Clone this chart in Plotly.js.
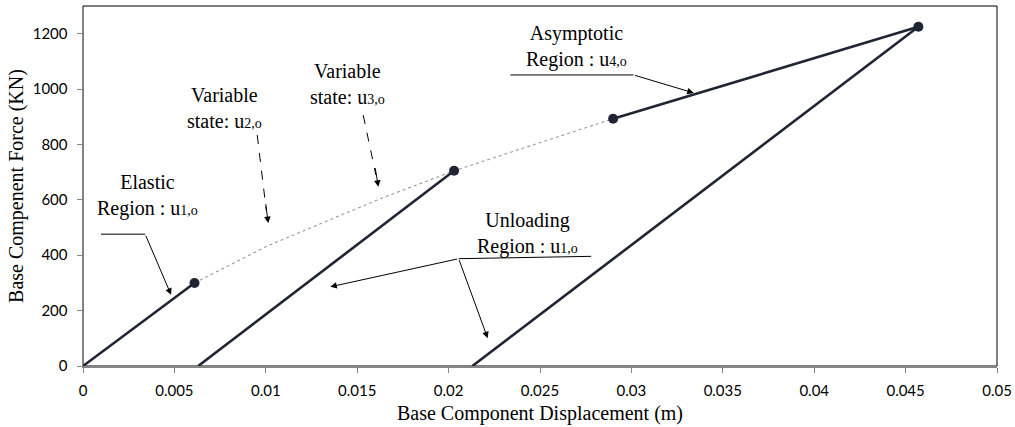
<!DOCTYPE html>
<html><head><meta charset="utf-8">
<script src="https://cdn.plot.ly/plotly-3.0.1.min.js"></script>
<style>html,body{margin:0;padding:0;background:#fff}#c{width:1015px;height:427px}</style>
</head><body><div id="c"></div>
<script>
// Data
const elasticX = [0, 0.0061], elasticY = [0, 300];
const unload1X = [0.0063, 0.0203], unload1Y = [0, 705];
const asympX = [0.029, 0.0457], asympY = [893, 1225];
const unload2X = [0.0213, 0.0457], unload2Y = [0, 1225];
const pathX = [0.0061, 0.0101, 0.0163, 0.0203, 0.029];
const pathY = [300, 434, 605, 705, 893];
const keyX = [0.0061, 0.0203, 0.029, 0.0457];
const keyY = [300, 705, 893, 1225];
const varX = [0.0101, 0.0163];
const varY = [434, 605];
const xTicks = [0, 0.005, 0.01, 0.015, 0.02, 0.025, 0.03, 0.035, 0.04, 0.045, 0.05];
const xTickText = ['0','0.005','0.01','0.015','0.02','0.025','0.03','0.035','0.04','0.045','0.05'];
const yTicks = [0, 200, 400, 600, 800, 1000, 1200];

const dark = '#1f2532';
const serif = 'Liberation Serif, Times New Roman, serif';
const sub = s => '<span style="font-size:14px">' + s + '</span>';

const traces = [
  {x: pathX, y: pathY, mode: 'lines', line: {color: '#9a9a9a', width: 1.1, dash: 'dot'}},
  {x: elasticX, y: elasticY, mode: 'lines', line: {color: dark, width: 2.6}},
  {x: unload1X, y: unload1Y, mode: 'lines', line: {color: dark, width: 2.6}},
  {x: asympX, y: asympY, mode: 'lines', line: {color: dark, width: 2.6}},
  {x: unload2X, y: unload2Y, mode: 'lines', line: {color: dark, width: 2.6}},
  {x: keyX, y: keyY, mode: 'markers', marker: {color: dark, size: 10, symbol: 'circle'}},
  {x: varX, y: varY, mode: 'markers', marker: {color: 'rgba(0,0,0,0)', size: 11, symbol: 'circle-open', line: {color: '#9a9a9a', width: 1}}},
  {x: varX, y: varY, mode: 'markers', marker: {color: 'rgba(0,0,0,0)', size: 5, symbol: 'circle-open', line: {color: '#9a9a9a', width: 1}}}
];

const txt = (x, y, t) => ({x, y, xref: 'x', yref: 'y', text: t, showarrow: false,
  font: {family: serif, size: 20, color: '#000'}, align: 'center'});
const arr = (x, y, ax, ay) => ({x, y, ax, ay, xref: 'x', yref: 'y', axref: 'x', ayref: 'y',
  text: '', showarrow: true, arrowhead: 2, arrowsize: 1.3, arrowwidth: 1, arrowcolor: '#000', standoff: 0, startstandoff: 0});

const annotations = [
  txt(0.00355, 614, 'Elastic<br>Region : u' + sub('1,o')),
  arr(0.00482, 257, 0.0034, 476),
  txt(0.00775, 933, 'Variable<br>state: u' + sub('2,o')),
  txt(0.01445, 1017, 'Variable<br>state: u' + sub('3,o')),
  txt(0.02700, 1155, 'Asymptotic<br>Region : u' + sub('4,o')),
  arr(0.03341, 986, 0.03012, 1051),
  txt(0.02430, 480, 'Unloading<br>Region : u' + sub('1,o')),
  arr(0.01353, 286, 0.02055, 387.5),
  arr(0.02214, 100, 0.02055, 387.5),
  // dashed arrows: heads only (shaft drawn as dashed shape)
  arr(0.01013, 516, 0.00999, 590),
  arr(0.01616, 647, 0.01597, 720)
];

const shapes = [
  {type: 'rect', xref: 'paper', yref: 'paper', x0: 0, x1: 1, y0: 0, y1: 1, line: {color: '#000', width: 1}, layer: 'below'},
  {type: 'line', xref: 'x', yref: 'y', x0: 0.000986, y0: 476, x1: 0.0034, y1: 476, line: {color: '#000', width: 1}},
  {type: 'line', xref: 'x', yref: 'y', x0: 0.02338, y0: 1051, x1: 0.03012, y1: 1051, line: {color: '#000', width: 1}},
  {type: 'line', xref: 'x', yref: 'y', x0: 0.0278, y0: 396, x1: 0.02055, y1: 387.5, line: {color: '#000', width: 1}},
  {type: 'line', xref: 'x', yref: 'y', x0: 0.00953, y0: 834, x1: 0.01003, y1: 560, line: {color: '#000', width: 1, dash: 'dash'}},
  {type: 'line', xref: 'x', yref: 'y', x0: 0.01533, y0: 906, x1: 0.01602, y1: 690, line: {color: '#000', width: 1, dash: 'dash'}}
];

const tickFont = {family: 'Lato, Open Sans, sans-serif', size: 15, color: '#000'};
const layout = {
  width: 1015, height: 427,
  margin: {l: 83, r: 18, t: 6, b: 61},
  paper_bgcolor: '#fff', plot_bgcolor: '#fff',
  showlegend: false,
  xaxis: {range: [0, 0.05], tickvals: xTicks, ticktext: xTickText, showgrid: false, zeroline: false,
    showline: true, linecolor: '#868686', linewidth: 1.5, ticks: 'outside', ticklen: 5, tickcolor: '#868686',
    ticklabelstandoff: 5,
    tickfont: tickFont, title: {text: 'Base Component Displacement (m)', font: {family: serif, size: 20, color: '#000'}, standoff: 8}},
  yaxis: {range: [0, 1300], tickvals: yTicks, showgrid: false, zeroline: false,
    showline: true, linecolor: '#868686', linewidth: 1.5, ticks: 'outside', ticklen: 5, tickcolor: '#868686',
    ticklabelstandoff: 6,
    tickfont: tickFont, title: {text: 'Base Compenent Force (KN)', font: {family: serif, size: 20, color: '#000'}, standoff: 3}},
  annotations, shapes
};
Plotly.newPlot('c', traces, layout, {staticPlot: true, displayModeBar: false});
</script></body></html>
